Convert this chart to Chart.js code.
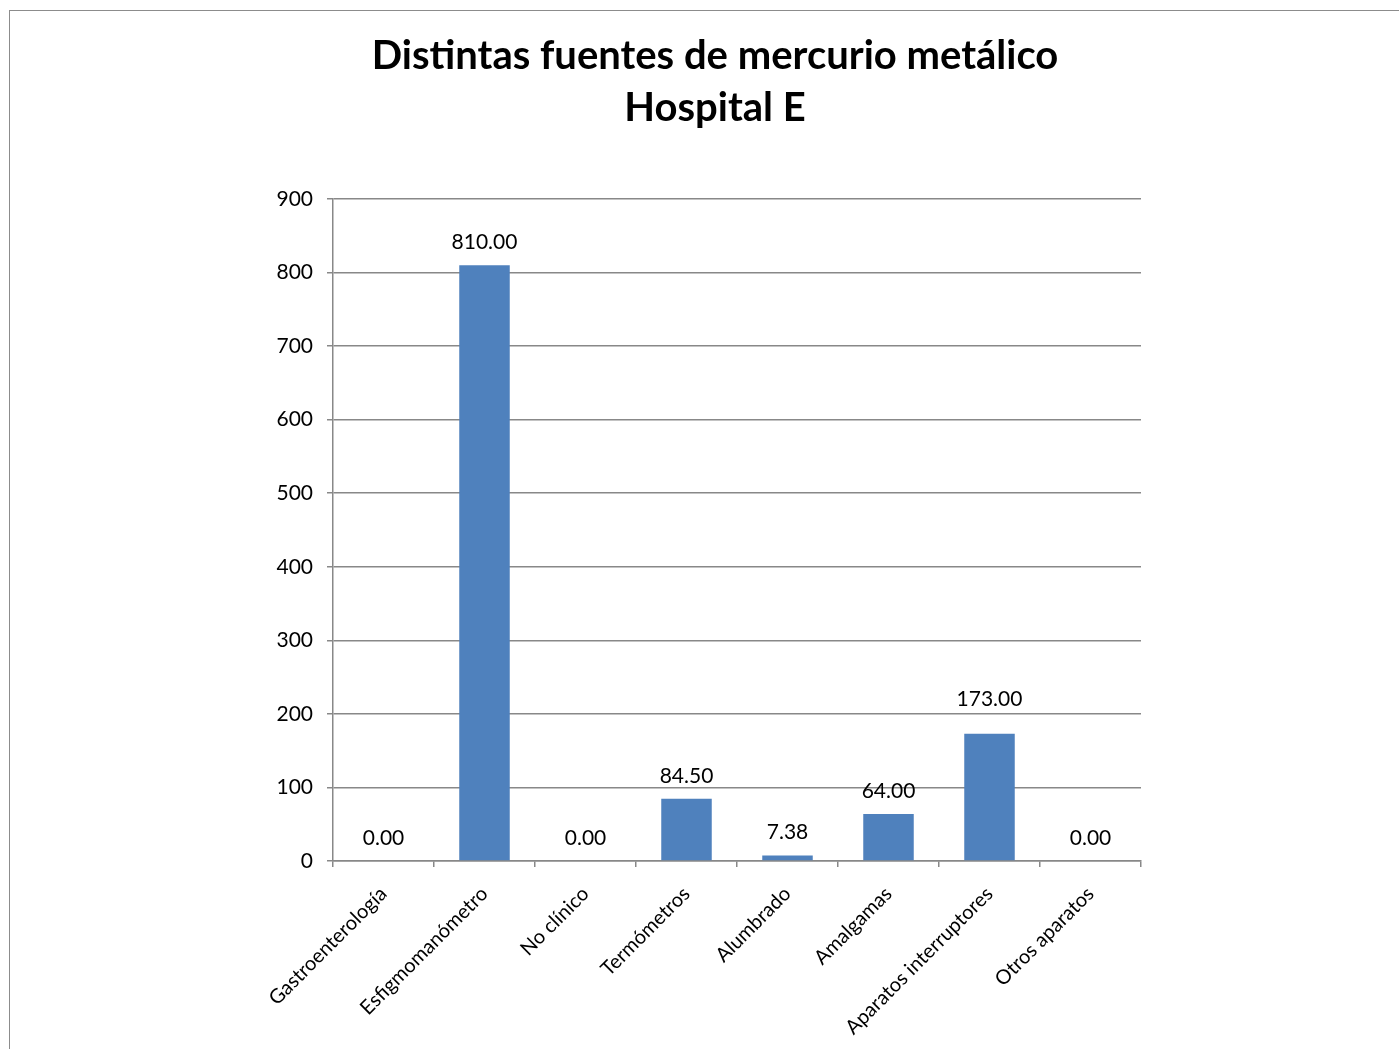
<!DOCTYPE html>
<html>
<head>
<meta charset="utf-8">
<script src="https://cdn.jsdelivr.net/npm/chart.js@4.4.0/dist/chart.umd.min.js"></script>
<style>
    body { margin: 0; background: #fff; overflow: hidden; }
    #frame {
        position: absolute; left: 9px; top: 10px;
        width: 1500px; height: 1100px;
        border: 1.5px solid #8c8c8c;
    }
    #wrap { position: absolute; left: 0; top: 0; width: 1399px; height: 1049px; }
</style>
</head>
<body>
<div id="frame"></div>
<div id="wrap"><canvas id="chart"></canvas></div>
<script>
    // Data
    const categories = ["Gastroenterología", "Esfigmomanómetro", "No clínico", "Termómetros", "Alumbrado", "Amalgamas", "Aparatos interruptores", "Otros aparatos"];
    const values = [0, 810, 0, 84.5, 7.38, 64, 173, 0];
    const titleLines = ["Distintas fuentes de mercurio metálico", "Hospital E"];

    const FONT = "Lato, 'Open Sans', sans-serif";
    const GRID = "#888888";

    // title is centred on the whole frame, not on the plot, so draw it ourselves
    const frameTitle = {
        id: "frameTitle",
        afterDraw(chart) {
            const ctx = chart.ctx;
            ctx.save();
            ctx.font = "bold 40px " + FONT;
            ctx.fillStyle = "#000";
            ctx.textAlign = "center";
            ctx.textBaseline = "middle";
            titleLines.forEach((line, i) => {
                ctx.fillText(line, 715, 56 + i * 52);
            });
            ctx.restore();
        }
    };

    // value labels above bars (the 173 label sits a bit higher in the original)
    const labelLift = [0, 0, 0, 0, 0, 0, 12, 0];
    const barLabels = {
        id: "barLabels",
        afterDatasetsDraw(chart) {
            const ctx = chart.ctx;
            const meta = chart.getDatasetMeta(0);
            ctx.save();
            ctx.font = "21px " + FONT;
            ctx.fillStyle = "#000";
            ctx.textAlign = "center";
            ctx.textBaseline = "middle";
            meta.data.forEach((bar, i) => {
                ctx.fillText(values[i].toFixed(2), bar.x, bar.y - 23 - labelLift[i]);
            });
            ctx.restore();
        }
    };

    const ctx = document.getElementById("chart").getContext("2d");
    new Chart(ctx, {
        type: "bar",
        data: {
            labels: categories,
            datasets: [{
                data: values,
                backgroundColor: "#4F81BD",
                barPercentage: 0.5,
                categoryPercentage: 1.0
            }]
        },
        options: {
            responsive: true,
            maintainAspectRatio: false,
            animation: false,
            layout: { padding: { left: 0, right: 258, top: 199, bottom: 0 } },
            plugins: {
                legend: { display: false },
                tooltip: { enabled: false },
                title: { display: false }
            },
            scales: {
                x: {
                    offset: true,
                    afterFit: function(scale) { scale.height = 188; },
                    grid: {
                        offset: true,
                        drawOnChartArea: false,
                        drawTicks: true,
                        tickLength: 6,
                        color: GRID,
                        lineWidth: 1.5
                    },
                    border: { color: GRID, width: 1.5 },
                    ticks: {
                        color: "#000",
                        font: { family: FONT, size: 20 },
                        minRotation: 45,
                        maxRotation: 45,
                        autoSkip: false,
                        padding: 15
                    }
                },
                y: {
                    min: 0,
                    max: 900,
                    afterFit: function(scale) { scale.width = 333; },
                    grid: {
                        color: GRID,
                        lineWidth: 1.5,
                        tickLength: 6
                    },
                    border: { color: GRID, width: 1.5 },
                    ticks: {
                        stepSize: 100,
                        color: "#000",
                        font: { family: FONT, size: 21 },
                        padding: 14
                    }
                }
            }
        },
        plugins: [barLabels, frameTitle]
    });
</script>
</body>
</html>
